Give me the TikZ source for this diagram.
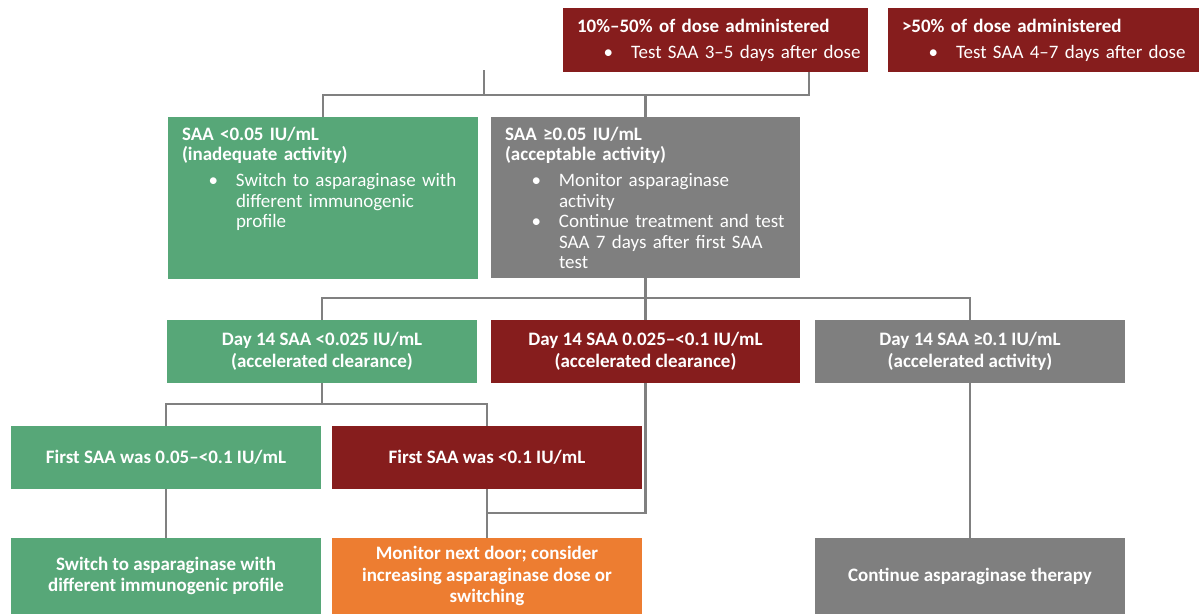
\documentclass[tikz,border=0pt]{standalone}
\usepackage{fontspec}
\setmainfont{Carlito}
\definecolor{grn}{RGB}{87,167,120}
\definecolor{dred}{RGB}{134,29,29}
\definecolor{gry}{RGB}{127,127,127}
\definecolor{org}{RGB}{237,125,49}
\definecolor{lne}{RGB}{128,128,128}
\newcommand\bul[1]{{\leftskip=54pt\noindent\llap{\textbullet\hspace{18pt}}#1\par}}
\newcommand\ttl[1]{{\bfseries #1\par}\vspace{5.5pt}}
\tikzset{
 base/.style={anchor=north west, text=white, font=\fontsize{19}{20.5}\selectfont, outer sep=0pt},
 tbox/.style={base, inner xsep=14pt, inner ysep=0pt, align=left},
 cbox/.style={base, inner sep=0pt, align=center, font=\fontsize{19}{21.5}\selectfont\bfseries},
 conn/.style={draw=lne, line width=2.5pt},
}
\begin{document}
\begin{tikzpicture}[x=1pt,y=-1pt]
\useasboundingbox (0,0) rectangle (1199,614);
% top row
\node[tbox, fill=dred, text width=277pt, minimum width=305pt, minimum height=64pt] (A) at (563,8)
 {\ttl{10\%–50\% of dose administered}\bul{\mbox{Test SAA 3–5 days after dose}}};
\node[tbox, fill=dred, text width=283pt, minimum width=311pt, minimum height=64pt] (B) at (888,8)
 {\ttl{>50\% of dose administered}\bul{\mbox{Test SAA 4–7 days after dose}}};
% second row
\node[tbox, fill=grn, text width=282pt, text height=23pt, text depth=139pt] (C) at (168,117)
 {\ttl{SAA <0.05 IU/mL\\(inadequate activity)}\bul{Switch to asparaginase with\\different immunogenic\\profile}};
\node[tbox, fill=gry, text width=281pt, text height=23pt, text depth=138pt] (D) at (491,117)
 {\ttl{SAA ≥0.05 IU/mL\\(acceptable activity)}\bul{Monitor asparaginase\\activity}\bul{Continue treatment and test\\SAA 7 days after first SAA\\test}};
% third row
\node[cbox, fill=grn, minimum width=310pt, minimum height=63pt] (E) at (167,320)
 {Day 14 SAA <0.025 IU/mL\\(accelerated clearance)};
\node[cbox, fill=dred, minimum width=309pt, minimum height=63pt] (F) at (491,320)
 {Day 14 SAA 0.025–<0.1 IU/mL\\(accelerated clearance)};
\node[cbox, fill=gry, minimum width=310pt, minimum height=63pt] (G) at (815,320)
 {Day 14 SAA ≥0.1 IU/mL\\(accelerated activity)};
% fourth row
\node[cbox, fill=grn, minimum width=310pt, minimum height=63pt] (H) at (11,426)
 {First SAA was 0.05–<0.1 IU/mL};
\node[cbox, fill=dred, minimum width=310pt, minimum height=63pt] (I) at (332,426)
 {First SAA was <0.1 IU/mL};
% fifth row
\node[cbox, fill=grn, minimum width=310pt, minimum height=76pt] (J) at (11,538)
 {Switch to asparaginase with\\different immunogenic profile};
\node[cbox, fill=org, minimum width=310pt, minimum height=76pt] (K) at (332,538)
 {Monitor next door; consider\\increasing asparaginase dose or\\switching};
\node[cbox, fill=gry, minimum width=310pt, minimum height=76pt] (L) at (815,538)
 {Continue asparaginase therapy};
% connectors
\coordinate (stub) at (484,70);
\coordinate (Aout) at (809,72);
\coordinate (h1) at (0,95);
\coordinate (h2) at (0,298);
\coordinate (h3) at (0,404);
\coordinate (h4) at (0,513);
\draw[conn] (Aout) -- (Aout |- h1) -| (C.north);
\draw[conn] (stub) -- (stub |- h1);
\draw[conn] (D.north |- h1) -- (D.north);
\draw[conn] (D.south) -- (D.south |- h2);
\draw[conn] (E.north) |- (G.north |- h2) -- (G.north);
\draw[conn] (F.north |- h2) -- (F.north);
\draw[conn] (E.south) -- (E.south |- h3);
\draw[conn] (H.north) |- (I.north |- h3) -- (I.north);
\draw[conn] (H.south) -- (J.north);
\draw[conn] (I.south) -- (K.north);
\draw[conn] (G.south) -- (L.north);
\draw[conn] (F.south) |- (I.south |- h4);
\end{tikzpicture}
\end{document}
